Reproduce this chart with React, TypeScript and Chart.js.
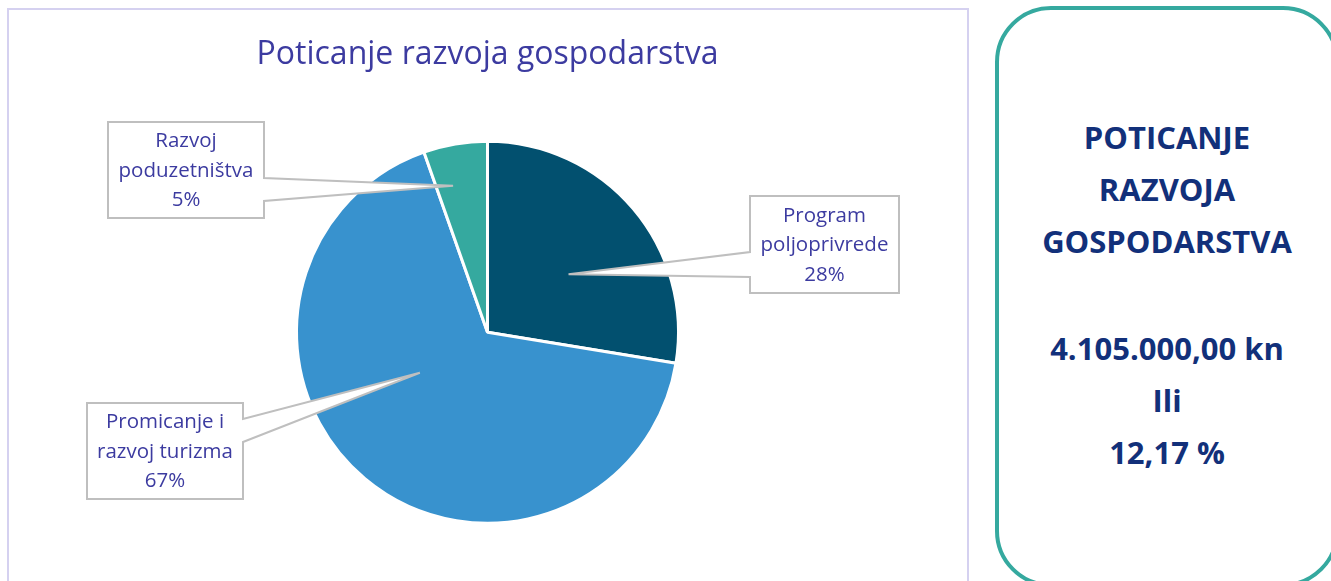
import React, { useEffect, useRef } from "react";
import { Chart, registerables } from "chart.js";

Chart.register(...registerables);

// ---- data ----
const categories = ["Program poljoprivrede", "Promicanje i razvoj turizma", "Razvoj poduzetništva"];
const labelLines = [
  ["Program", "poljoprivrede"],
  ["Promicanje i", "razvoj turizma"],
  ["Razvoj", "poduzetništva"],
];
const shares = [27.6, 67.0, 5.4];
const sliceColors = ["#02506F", "#3892CE", "#35A99F"];
const chartTitle = "Poticanje razvoja gospodarstva";
const summaryHeading = ["POTICANJE", "RAZVOJA", "GOSPODARSTVA"];
const summaryAmount = ["4.105.000,00 kn", "Ili", "12,17 %"];

// ---- layout (canvas pixel coordinates) ----
const calloutLayout = [
  { x: 741, y: 186, w: 149, h: 97, side: "left", b1: 56, b2: 81, angleOffset: 4.7, radiusFrac: 0.522 },
  { x: 78, y: 393, w: 156, h: 96, side: "right", b1: 16, b2: 39, angleOffset: 19.1, radiusFrac: 0.413 },
  { x: 99, y: 112, w: 156, h: 96, side: "right", b1: 56, b2: 79, angleOffset: -3.5, radiusFrac: 0.788 },
];

const TEXT_COLOR = "#3C3BA0";

const calloutPlugin = {
  id: "callouts",
  afterDatasetsDraw(chart: any) {
    const ctx = chart.ctx as CanvasRenderingContext2D;
    const meta = chart.getDatasetMeta(0);
    const total = shares.reduce((a, b) => a + b, 0);
    meta.data.forEach((arc: any, i: number) => {
      const p = arc.getProps(["x", "y", "startAngle", "endAngle", "outerRadius"], true);
      const L = calloutLayout[i];
      const mid = (p.startAngle + p.endAngle) / 2 + (L.angleOffset * Math.PI) / 180;
      const tx = p.x + Math.cos(mid) * p.outerRadius * L.radiusFrac;
      const ty = p.y + Math.sin(mid) * p.outerRadius * L.radiusFrac;
      const { x, y, w, h } = L;
      ctx.save();
      ctx.beginPath();
      if (L.side === "left") {
        ctx.moveTo(x, y);
        ctx.lineTo(x + w, y);
        ctx.lineTo(x + w, y + h);
        ctx.lineTo(x, y + h);
        ctx.lineTo(x, y + L.b2);
        ctx.lineTo(tx, ty);
        ctx.lineTo(x, y + L.b1);
        ctx.closePath();
      } else {
        ctx.moveTo(x, y);
        ctx.lineTo(x + w, y);
        ctx.lineTo(x + w, y + L.b1);
        ctx.lineTo(tx, ty);
        ctx.lineTo(x + w, y + L.b2);
        ctx.lineTo(x + w, y + h);
        ctx.lineTo(x, y + h);
        ctx.closePath();
      }
      ctx.fillStyle = "#FFFFFF";
      ctx.fill();
      ctx.lineWidth = 2;
      ctx.lineJoin = "miter";
      ctx.strokeStyle = "#BFBFBF";
      ctx.stroke();

      const lines = [...labelLines[i], Math.round((shares[i] / total) * 100) + "%"];
      ctx.fillStyle = TEXT_COLOR;
      ctx.font = "20.5px 'Open Sans'";
      ctx.textAlign = "center";
      ctx.textBaseline = "middle";
      const lh = 29.5;
      const cy = y + h / 2 + 1;
      lines.forEach((t, k) => {
        ctx.fillText(t, x + w / 2, cy + (k - (lines.length - 1) / 2) * lh);
      });
      ctx.restore();
    });
  },
};

export default function App() {
  const canvasRef = useRef<HTMLCanvasElement | null>(null);

  useEffect(() => {
    if (!canvasRef.current) return;
    const chart = new Chart(canvasRef.current, {
      type: "pie",
      data: {
        labels: categories,
        datasets: [
          {
            data: shares,
            backgroundColor: sliceColors,
            borderColor: "#FFFFFF",
            borderWidth: 3,
            hoverOffset: 0,
          },
        ],
      },
      options: {
        animation: false,
        responsive: true,
        maintainAspectRatio: false,
        radius: 191,
        layout: { padding: { top: 0, left: 0, right: 1, bottom: 40 } },
        plugins: {
          legend: { display: false },
          tooltip: { enabled: false },
          title: {
            display: true,
            text: chartTitle,
            color: TEXT_COLOR,
            font: { family: "'Open Sans'", size: 32, weight: "normal", lineHeight: 1.2 },
            padding: { top: 26, bottom: 49 },
          },
        },
      } as any,
      plugins: [calloutPlugin],
    });
    return () => chart.destroy();
  }, []);

  return (
    <div
      style={{
        position: "fixed",
        left: 0,
        top: 0,
        width: 1331,
        height: 581,
        overflow: "hidden",
        background: "#FFFFFF",
      }}
    >
      <div
        style={{
          position: "absolute",
          left: 7,
          top: 8,
          width: 962,
          height: 700,
          boxSizing: "border-box",
          border: "2px solid #D5D1F0",
        }}
      />
      <div style={{ position: "absolute", left: 9, top: 10, width: 958, height: 571 }}>
        <canvas ref={canvasRef} />
      </div>
      <div
        style={{
          position: "absolute",
          left: 995,
          top: 6,
          width: 344,
          height: 581,
          boxSizing: "border-box",
          border: "4px solid #35A99F",
          borderRadius: 56,
        }}
      />
      <div
        style={{
          position: "absolute",
          left: 995,
          top: 111,
          width: 344,
          textAlign: "center",
          fontFamily: "'Open Sans', sans-serif",
          fontWeight: 700,
          fontSize: 31,
          lineHeight: "52px",
          color: "#12307A",
        }}
      >
        {summaryHeading.map((t) => (
          <div key={t}>{t}</div>
        ))}
        <div style={{ height: 55 }} />
        {summaryAmount.map((t) => (
          <div key={t}>{t}</div>
        ))}
      </div>
    </div>
  );
}
